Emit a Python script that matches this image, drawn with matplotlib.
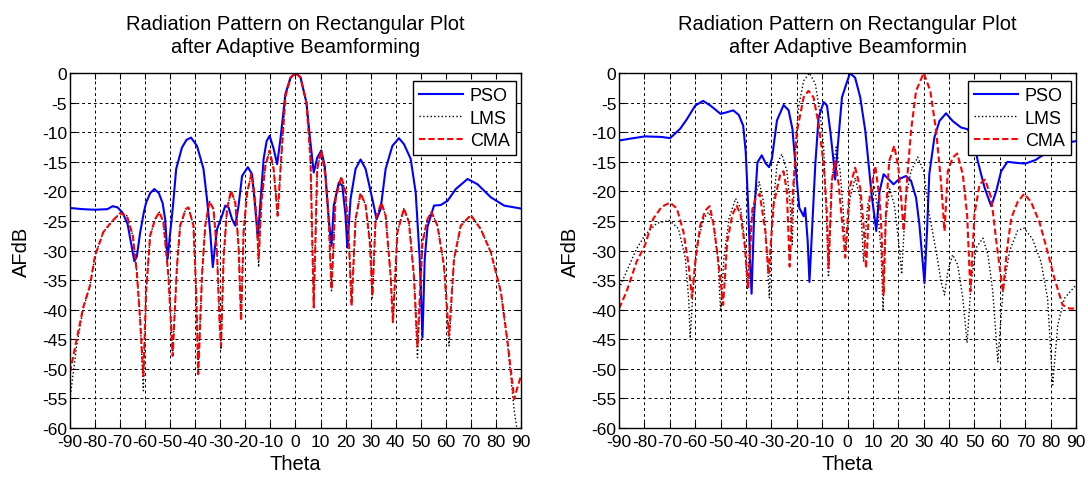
import matplotlib
matplotlib.use('Agg')
import matplotlib.pyplot as plt

plt.rcParams['font.family'] = ['Liberation Sans', 'DejaVu Sans']
plt.rcParams['axes.unicode_minus'] = False

# ---- left plot: main beam at 0 deg ----
theta_l_pso = [-90, -85, -80, -75, -73, -71, -69, -67, -65.5, -64.3, -63.3, -62, -60.5, -59.6, -58,
               -56.3, -54.5, -53, -52, -51, -50, -49, -47.6, -45.3, -43.5, -41.7, -39.3, -36.7, -35.3,
               -34, -33, -32, -31.3, -29.3, -28, -26.7, -25.3, -24, -22.7, -21.3, -19, -17.3, -16, -15,
               -14, -12.7, -11.5, -10.3, -8.7, -7.3, -6, -4, -2, 0, 2, 4.4, 5.7, 7.3, 8.7, 10.3, 11.7,
               13.3, 14.4, 15.3, 17.3, 18.7, 20, 20.7, 22, 24, 26, 28, 30.7, 32.4, 34, 36, 38.7, 41.3,
               43.3, 46, 48, 49.6, 50.7, 51.6, 52.7, 55.3, 58, 60.7, 64, 68.7, 72.7, 78, 83.3, 90]
pso_l = [-22.8, -23.0, -23.1, -23.0, -22.5, -22.7, -23.6, -25.5, -29, -31.8, -31, -27, -23.5, -21.9, -20.3,
         -19.6, -20.3, -22, -24.7, -31.4, -27, -23, -16.2, -12.6, -11.3, -10.9, -12.3, -16.2, -21.3,
         -27, -32.8, -29, -26.4, -24.1, -22.4, -22.7, -24.7, -25.8, -22.4, -17.4, -15.9, -17.1, -23, -28,
         -21.9, -14.5, -11.5, -10.6, -12.8, -15.4, -11.2, -3.5, -0.8, 0, -0.7, -5, -10.6, -16.8, -14.3, -13.1, -15.7,
         -24.7, -29.2, -22.4, -18.5, -19, -24.1, -29.5, -21.3, -16.2, -14.6, -16.2, -21.3, -24.7, -23, -16.2, -12.3, -11,
         -12, -14.5, -20.2, -31.4, -44.7, -31.4, -26, -22.4, -22.3, -21.6, -19.6, -17.9, -18.8, -21, -22.4, -22.9]

theta_l = [-90, -87.3, -84.7, -82, -80, -76.7, -73.3, -70, -67.3, -64.9, -63.3, -62, -60.7, -59.6, -58,
           -56, -54.3, -52.7, -50.7, -49, -47.3, -46, -43.8, -42.7, -40.7, -39.6, -38.8, -37.3, -36,
           -34.3, -32.7, -31.3, -30.3, -29.7, -28.7, -27.3, -25.7, -24, -22.7, -21.7, -20.7, -19.3,
           -17.6, -16.4, -15.3, -14.7, -13.6, -12, -10.3, -8.7, -7.1, -5.7, -4, -2, 0, 2, 4.4, 6, 7.3,
           8.7, 10.3, 12, 13.3, 14.4, 16, 18.3, 20, 21.3, 22.4, 24, 26, 28, 29.7, 30.7, 32, 34.3, 36,
           38, 38.9, 40.7, 43.3, 45.3, 47.3, 48.7, 50.7, 52.7, 54.3, 56.7, 59.3, 61.3, 63.3, 66, 70,
           74, 78, 82, 84.7, 87.3, 88.7, 90]
cma_l = [-50.6, -45, -39.6, -35.9, -30.9, -26.9, -25.1, -23.7, -24.1, -27.5, -33.7, -41.6, -51.2, -37, -27.5,
         -24.7, -23.5, -25.2, -34.3, -47.8, -32.7, -25.8, -23, -22.7, -25.8, -37, -50.9, -34.3, -25.8,
         -21.7, -23, -30.3, -42, -46.1, -31.4, -23, -19.9, -21.9, -29.2, -41.9, -26.9, -20.2,
         -17.1, -20.2, -25.8, -31.4, -21.9, -15.7, -13.1, -16.2, -24.1, -14.5, -4, -0.8, 0, -0.7, -5, -14.5, -39.6,
         -16.2, -13.1, -17.4, -25, -36.5, -21.3, -17.5, -20.2, -28, -39.3, -24.7, -20.3, -22.3, -28.6, -37.6, -24.7, -21.9, -24.1,
         -34.3, -42.1, -26.9, -22.9, -25.2, -34.3, -46.1, -28.6, -24.7, -23.5, -25.8, -32.6, -44.4, -31.4, -25.8, -24,
         -26.4, -30.3, -37, -45.5, -55.1, -53, -51.2]
lms_l = [-55.1, -46, -39.8, -35.9, -30.9, -26.9, -25.1, -23.7, -24.1, -27.5, -33.7, -41.6, -53.7, -37, -27.5,
         -24.7, -23.5, -25.2, -34.3, -47.5, -32.7, -25.8, -23, -22.7, -25.8, -37, -50.5, -34.3, -25.8,
         -21.7, -23, -30.3, -42, -46.7, -31.4, -23, -19.9, -21.9, -29.2, -41.5, -26.9, -20.2,
         -17.1, -20.2, -25.8, -32.8, -21.9, -15.7, -13.1, -16.2, -24.1, -14.5, -4, -0.8, 0, -0.7, -5, -14.5, -39.6,
         -16.2, -13.1, -17.4, -25, -36.8, -21.3, -17.5, -20.2, -28, -39.3, -24.7, -20.3, -22.3, -28.6, -38, -24.7, -21.9, -24.1,
         -34.3, -42.1, -26.9, -22.9, -25.2, -34.3, -48.1, -28.6, -24.7, -23.5, -25.8, -32.6, -46.1, -31.4, -25.8, -24,
         -26.4, -30.3, -37, -46, -57, -61, -60]

# ---- right plot ----
theta_r_pso = [-90, -85.8, -79.8, -73.2, -69.9, -65.9, -63.3, -60, -56.9, -54, -50, -47.4, -45, -42.8, -41.1,
               -40.1, -39.1, -38.4, -37.8, -36.8, -35.5, -33.8, -32.2, -30.9, -29.8, -27.8, -25.2, -23.2,
               -21.7, -20.3, -19, -18, -17.3, -16.7, -15.7, -15, -14, -12.7, -11.4, -9.4, -8.1, -6.8, -5.5,
               -4.9, -3.9, -2.2, -0.3, 1, 3, 5, 7, 8.3, 9.6, 10.5, 11.3, 12.6, 14.2, 16.1, 18.1, 20.4, 23,
               25, 27, 28.3, 29.6, 30.3, 31.3, 32.2, 34.2, 36.2, 38.8, 41.4, 44.7, 47.4, 50, 51.3, 54, 56.6,
               58.6, 60.5, 63, 67, 70, 74, 80, 86, 90]
pso_r = [-11.4, -11.1, -10.7, -10.8, -11, -9.4, -7.8, -5.5, -4.7, -5.5, -6.9, -6.6, -6.3, -7.1, -8.9,
         -13.4, -22.9, -32, -37.3, -24, -15.1, -13.9, -15.3, -15.9, -14.5, -8, -5.4, -6.3,
         -9.5, -16.6, -22.8, -23.6, -24.2, -22.8, -28.4, -35.3, -26.7, -15.4, -7.5, -4.9, -5.5, -9.8, -14.9,
         -18, -12.6, -4.1, -1.6, 0, -0.8, -4.1, -9.8, -15.4, -21, -23.9, -26.7, -20, -17.1, -17.9, -18.8, -17.9, -17.4,
         -18.2, -21.1, -25.6, -32, -35.5, -26.7, -17.1, -10.9, -8.1, -6.8, -8.1, -9.2, -9.5, -12, -14.9, -19.4, -22.5,
         -19.9, -16.6, -15, -15.2, -15.3, -14.7, -13, -11.8, -11.5]

theta_r_lms = [-90, -87.1, -83.1, -79.8, -75.2, -70.2, -66.6, -63.9, -62.6, -62, -60.9, -59.3, -56.7, -54.7,
               -53, -51.1, -50, -48.7, -46.7, -44.1, -42.1, -40.5, -39.5, -38.1, -36.6, -34.8, -33, -31.8,
               -30.8, -29.8, -27.8, -25.9, -23.9, -22.6, -21.8, -20.6, -19.3, -17.3, -15, -12.7, -10.8, -9.4,
               -8.1, -7.5, -6.2, -4.5, -2.9, -1.6, -0.7, 1, 3, 5, 6.3, 7.9, 10.5, 11.8, 13.2, 14, 15, 16.6,
               18.4, 20.4, 21.3, 23, 25, 27.6, 30, 32.2, 34.9, 36.8, 38.2, 39.5, 41.4, 43.4, 45.4, 47.1,
               48.7, 50.7, 53.3, 55.3, 57.2, 59.2, 61.2, 63.8, 67, 69.6, 72.9, 76.2, 78.8, 80.8, 82.8, 85.4,
               89.4, 90]
lms_r = [-36.4, -33.6, -29.7, -27.4, -25.4, -24.9, -26.3, -31.3, -38.1, -44.8, -37, -29.1, -24.6, -23.5,
         -25.2, -31.3, -40.3, -31.3, -24.6, -21.2, -22.9, -28.5, -36.5, -25.8, -21.2, -18.4, -22, -30,
         -38, -25.4, -15.4, -13.7, -16.5, -22.2, -29, -12.6, -5.8, -1.3, 0, -1.8, -6.9, -12.6,
         -26.7, -34.5, -18.3, -12.5, -16.6, -23.9, -30, -21.1, -17.7, -21.2, -31.9, -22.3, -19, -22.9, -30, -40.3, -25, -19.6,
         -22.2, -29.5, -34, -21, -16.6, -14.2, -16.6, -23.9, -30.1, -35.2, -37.5, -33.5, -30.7, -32.4, -38, -45.6,
         -35.2, -29.5, -27.9, -30.7, -36.9, -48.8, -36.9, -30.1, -26.6, -26.2, -28.1, -31.9, -38.1, -52.7, -42.6, -38.1,
         -36.1, -36]

theta_r_cma = [-90, -87.1, -83.1, -79.8, -76.5, -73.2, -69.9, -67.2, -64.6, -62.6, -61.3, -60, -58, -56,
               -54.3, -52.7, -50.7, -49, -47.4, -45.4, -43.7, -42.1, -40.5, -39.1, -37.5, -36.2, -34.6,
               -32.4, -31.1, -29.1, -26.5, -25.2, -23.9, -22.8, -21.5, -19.9, -17.3, -15.4, -13.4, -11.4,
               -9.4, -8.1, -7.5, -6.2, -4.9, -3.5, -1.8, -0.9, 0.8, 3, 5, 6.3, 7.3, 8.7, 10.9, 12.6, 13.4,
               14.2, 15.1, 16.4, 18.4, 20, 21.3, 22.1, 23.4, 25, 27, 30, 32.6, 34.9, 36.8, 38.2, 39.5, 41.4,
               43.2, 45.4, 47.1, 48.4, 50, 52, 54.2, 56.6, 58.6, 61.2, 62.9, 64.5, 67, 69.6, 72.3, 75.6,
               78.8, 81.5, 84.7, 87.4, 90]
cma_r = [-39.8, -37, -31.9, -29.1, -24.6, -22.6, -21.9, -22.9, -26.9, -32.5, -38, -32, -25.7, -23.2,
         -22.5, -25.7, -32.5, -39.2, -28.5, -24, -22.4, -24, -29.1, -36.4, -23, -21.2, -20.4,
         -26.7, -34, -22.2, -17.1, -16.6, -20, -32.7, -20, -9.8, -4.1, -3, -4.1, -8.6,
         -15.4, -23.9, -33, -18.3, -14.9, -18.8, -26.7, -31.2, -19.4, -16, -19.4, -25.6, -33, -21.1, -15.7, -21.1, -27,
         -37.5, -23.9, -14.9, -12.3, -15.9, -22.2, -26.7, -18.3, -9.8, -3, 0, -3, -9.8, -18.3, -26.7, -16.6, -14.3,
         -13.6, -17.1, -23.9, -36.9, -23.9, -18.8, -18, -21.1, -28.4, -37, -29.5, -24.5, -21.8, -20.4, -21.8, -25.2,
         -30.2, -34.7, -39.2, -39.8, -39.8]

titles = ['Radiation Pattern on Rectangular Plot\nafter Adaptive Beamforming',
          'Radiation Pattern on Rectangular Plot\nafter Adaptive Beamformin']
xticks = list(range(-90, 91, 10))
yticks = list(range(-60, 1, 5))


def style_axes(ax, title):
    ax.set_xlim(-90, 90)
    ax.set_ylim(-60, 0)
    ax.set_xticks(xticks)
    ax.set_yticks(yticks)
    ax.tick_params(direction='in', top=True, right=True, labelsize=12.5, length=4)
    ax.tick_params(axis='x', pad=4)
    ax.tick_params(axis='y', pad=2)
    ax.grid(True, color='k', linestyle=(0, (3, 3)), linewidth=0.7)
    for s in ax.spines.values():
        s.set_linewidth(1.0)
    ax.set_title(title, fontsize=14.5, pad=15, linespacing=1.3)
    ax.set_xlabel('Theta', fontsize=14.5, labelpad=4)
    ax.set_ylabel('AFdB', fontsize=14.5, labelpad=8)
    leg = ax.legend(loc='upper right', bbox_to_anchor=(0.989, 0.978), borderaxespad=0,
                    fontsize=13, fancybox=False, framealpha=1, edgecolor='k',
                    handlelength=2.4, handletextpad=0.4, labelspacing=0.3, borderpad=0.35)
    leg.get_frame().set_linewidth(1.0)


fig = plt.figure(figsize=(10.88, 4.81), dpi=100)
ax1 = fig.add_axes([0.0643, 0.108, 0.4145, 0.738])
ax2 = fig.add_axes([0.569, 0.108, 0.42, 0.738])

ax1.plot(theta_l_pso, pso_l, color='#0000ff', lw=1.5, label='PSO')
ax1.plot(theta_l, lms_l, color='k', lw=1.0, linestyle=':', label='LMS')
ax1.plot(theta_l, cma_l, color='#ff0000', lw=1.5, linestyle=(0, (3, 1.5)), label='CMA')
style_axes(ax1, titles[0])

ax2.plot(theta_r_pso, pso_r, color='#0000ff', lw=1.5, label='PSO')
ax2.plot(theta_r_lms, lms_r, color='k', lw=1.0, linestyle=':', label='LMS')
ax2.plot(theta_r_cma, cma_r, color='#ff0000', lw=1.5, linestyle=(0, (3, 1.5)), label='CMA')
style_axes(ax2, titles[1])

fig.savefig('out.png', dpi=100)
plt.close(fig)
